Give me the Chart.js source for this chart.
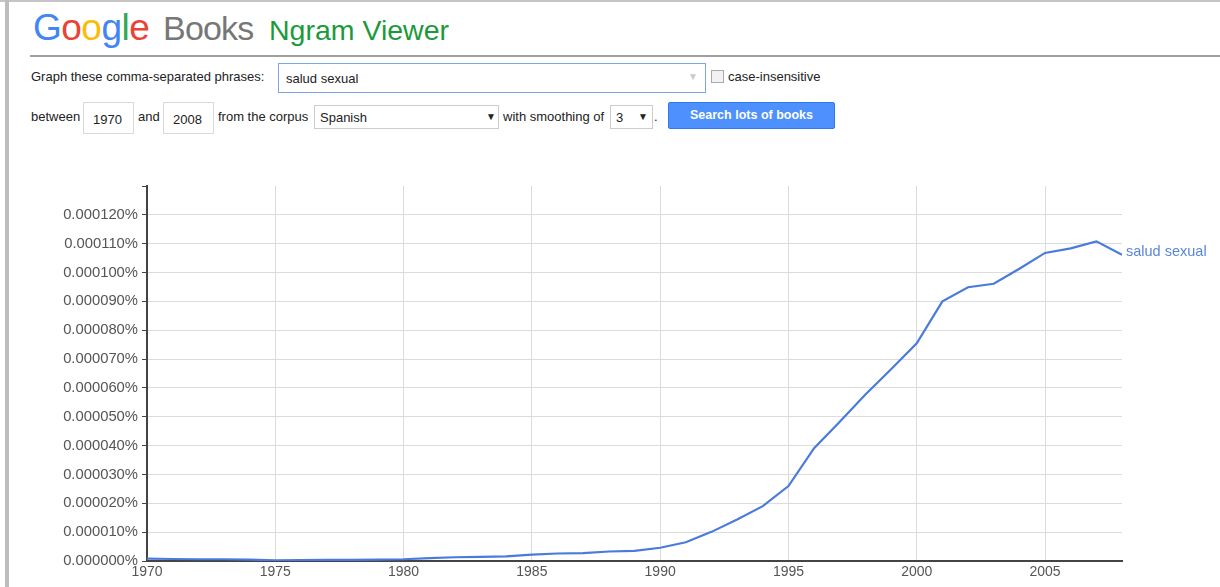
<!DOCTYPE html>
<html>
<head>
<meta charset="utf-8">
<script src="https://cdn.jsdelivr.net/npm/chart.js@4.4.1/dist/chart.umd.min.js"></script>
<style>
  body { margin: 0; width: 1220px; height: 587px; overflow: hidden; background: #fff; font-family: Arial, "Liberation Sans", sans-serif; color: #222; }
  .abs { position: absolute; white-space: nowrap; }
  #frame { position: absolute; left: 0; top: 0; width: 1220px; height: 587px; border-top: 2px solid #c4c4c4; box-sizing: border-box; }
  #bar { position: absolute; left: 5px; top: 0; width: 4px; height: 587px; background: #bdbdbd; }
  #rule { position: absolute; left: 30px; top: 55px; width: 1190px; height: 2px; background: #a0a0a0; }
  .lbl { font-size: 13px; }
  .box { position: absolute; border: 1px solid #d9d9d9; box-sizing: border-box; background: #fff; font-size: 13px; }
  #btn { position: absolute; left: 668px; top: 102px; width: 167px; height: 27px; background: #4d90fe; border: 1px solid #3079ed; box-sizing: border-box; color: #fff; font-weight: bold; font-size: 12.5px; text-align: center; line-height: 25px; border-radius: 2px; }
  #cv { position: absolute; left: 0; top: 170px; }
</style>
</head>
<body>
<div id="frame"></div>
<div id="bar"></div>

<div class="abs" style="left:33px;top:7px;font-size:37px;letter-spacing:-0.5px;"><span style="color:#4285f4">G</span><span style="color:#ea4335">o</span><span style="color:#fbbc05">o</span><span style="color:#4285f4">g</span><span style="color:#34a853">l</span><span style="color:#ea4335">e</span></div>
<div class="abs" style="left:163px;top:9px;font-size:34px;letter-spacing:-0.8px;color:#777;">Books</div>
<div class="abs" style="left:269px;top:14px;font-size:28.5px;color:#1b9a3c;">Ngram Viewer</div>
<div id="rule"></div>

<div class="abs lbl" style="left:31px;top:69px;">Graph these comma-separated phrases:</div>
<div class="box" style="left:278px;top:63px;width:428px;height:30px;border-color:#7aa6e8;">
  <span class="abs" style="left:7px;top:7px;">salud sexual</span>
  <span class="abs" style="left:409px;top:7px;color:#ccc;font-size:10px;">▼</span>
</div>
<div class="box" style="left:711px;top:70px;width:13px;height:13px;border-color:#aaa;background:#f2f2f2;"></div>
<div class="abs lbl" style="left:728px;top:69px;">case-insensitive</div>

<div class="abs lbl" style="left:31px;top:109px;">between</div>
<div class="box" style="left:83px;top:102px;width:51px;height:32px;"><span class="abs" style="left:9px;top:9px;">1970</span></div>
<div class="abs lbl" style="left:138px;top:109px;">and</div>
<div class="box" style="left:163px;top:102px;width:51px;height:32px;"><span class="abs" style="left:9px;top:9px;">2008</span></div>
<div class="abs lbl" style="left:218px;top:109px;">from the corpus</div>
<div class="box" style="left:314px;top:105px;width:185px;height:24px;border-color:#ccc;">
  <span class="abs" style="left:5px;top:4px;">Spanish</span>
  <span class="abs" style="left:171px;top:5px;font-size:10px;">▼</span>
</div>
<div class="abs lbl" style="left:503px;top:109px;">with smoothing of</div>
<div class="box" style="left:610px;top:105px;width:43px;height:24px;border-color:#ccc;">
  <span class="abs" style="left:5px;top:4px;">3</span>
  <span class="abs" style="left:27px;top:5px;font-size:10px;">▼</span>
</div>
<div class="abs lbl" style="left:654px;top:109px;">.</div>
<div id="btn">Search lots of books</div>

<canvas id="cv" width="1220" height="417"></canvas>

<script>
// yearly values, in percent
const years = [1970, 1971, 1972, 1973, 1974, 1975, 1976, 1977, 1978, 1979,
               1980, 1981, 1982, 1983, 1984, 1985, 1986, 1987, 1988, 1989,
               1990, 1991, 1992, 1993, 1994, 1995, 1996, 1997, 1998, 1999,
               2000, 2001, 2002, 2003, 2004, 2005, 2006, 2007, 2008];
const saludSexual = [0.0000008, 0.0000007, 0.0000006, 0.0000006, 0.0000005, 0.0000002, 0.0000003, 0.0000004, 0.0000004, 0.0000005,
                     0.0000006, 0.0000010, 0.0000013, 0.0000014, 0.0000016, 0.0000022, 0.0000026, 0.0000027, 0.0000033, 0.0000035,
                     0.0000046, 0.0000065, 0.0000101, 0.0000144, 0.0000190, 0.0000260, 0.0000391, 0.0000483, 0.0000577, 0.0000665,
                     0.0000755, 0.0000900, 0.0000949, 0.0000961, 0.0001013, 0.0001068, 0.0001084, 0.0001108, 0.0001062];
const seriesName = 'salud sexual';
const xTicks = [1970, 1975, 1980, 1985, 1990, 1995, 2000, 2005];

const lineColor = '#4a7bdc';

const endLabel = {
  id: 'endLabel',
  afterDatasetsDraw(chart) {
    const pts = chart.getDatasetMeta(0).data;
    const last = pts[pts.length - 1];
    const ctx = chart.ctx;
    ctx.save();
    ctx.font = '14.5px Arial';
    ctx.fillStyle = '#5a86d8';
    ctx.textBaseline = 'middle';
    ctx.fillText(seriesName, last.x + 4, last.y - 3);
    ctx.restore();
  }
};

new Chart(document.getElementById('cv'), {
  type: 'line',
  data: {
    datasets: [{
      label: seriesName,
      data: years.map((y, i) => ({ x: y, y: saludSexual[i] })),
      borderColor: lineColor,
      borderWidth: 2.2,
      pointRadius: 0,
      tension: 0
    }]
  },
  options: {
    responsive: false,
    animation: false,
    layout: { padding: { top: 16, right: 98, left: 0, bottom: 0 } },
    plugins: { legend: { display: false }, tooltip: { enabled: false } },
    scales: {
      x: {
        type: 'linear',
        min: 1970,
        max: 2008,
        afterBuildTicks: s => { s.ticks = xTicks.map(v => ({ value: v })); },
        afterFit: s => { s.height = 26; },
        ticks: { font: { family: 'Arial', size: 14 }, color: '#555', padding: 3, maxRotation: 0, callback: v => String(v) },
        grid: { color: '#dcdcdc', drawTicks: false },
        border: { color: '#444', width: 2 }
      },
      y: {
        min: 0,
        max: 0.00013,
        afterFit: s => { s.width = 147; },
        ticks: {
          stepSize: 0.00001,
          font: { family: 'Arial', size: 14.8 },
          color: '#555',
          padding: 4,
          callback: v => v > 0.000125 ? '' : v.toFixed(6) + '%'
        },
        grid: {
          color: c => c.tick && c.tick.value > 0.000125 ? 'rgba(0,0,0,0)' : '#dcdcdc',
          tickColor: '#444',
          tickLength: 5
        },
        border: { color: '#444', width: 2 }
      }
    }
  },
  plugins: [endLabel]
});
</script>
</body>
</html>
